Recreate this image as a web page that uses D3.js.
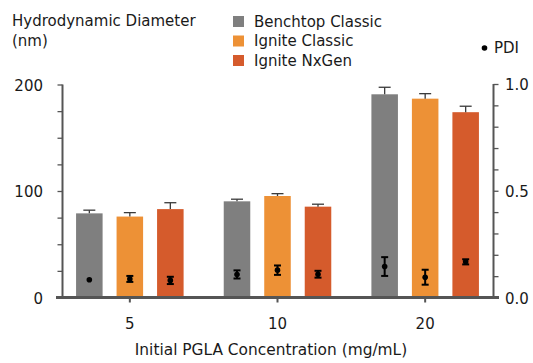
<!DOCTYPE html>
<html>
<head>
<meta charset="utf-8">
<script src="https://cdn.jsdelivr.net/npm/d3@7"></script>
<style>
  body { margin: 0; background: #fff; }
  text { font-family: "DejaVu Sans", Verdana, sans-serif; fill: #1a1a1a; }
</style>
</head>
<body>
<svg id="chart" width="533" height="363"></svg>
<script>
const concentrations = ['5', '10', '20']
const instruments = ['Benchtop Classic', 'Ignite Classic', 'Ignite NxGen']
const colors = ['#7f7f7f', '#ed9136', '#d55b2c']

// hydrodynamic diameter (nm), per concentration x instrument
const diameter = [
  [79, 76, 83],
  [90.3, 95.3, 85.3],
  [190.8, 186.7, 174]
]
const diameterErr = [
  [3, 3.7, 6],
  [2, 2.2, 2.3],
  [6.6, 4.7, 5.6]
]
const pdi = [
  [0.083, 0.087, 0.080],
  [0.108, 0.128, 0.109],
  [0.145, 0.095, 0.167]
]
const pdiErr = [
  [0, 0.014, 0.017],
  [0.019, 0.022, 0.016],
  [0.044, 0.035, 0.012]
]
const leftTicks = [0, 100, 200]
const rightTicks = [0, 0.5, 1.0]

const svg = d3.select('#chart')
const axisColor = '#555'
const x0 = 56, x1 = 499, yBase = 297.5

const xScale = d3.scaleBand().domain(concentrations).range([x0, x1])
const xInner = d3.scaleBand().domain(instruments).range([-60.75, 60.75]).paddingInner(0.345).paddingOuter(0.1725)
const yScale = d3.scaleLinear().domain([0, 200]).range([yBase, 84.5])
const pdiScale = d3.scaleLinear().domain([0, 1]).range([yBase, 84])

const rows = []
concentrations.forEach((c, i) => {
  instruments.forEach((s, j) => {
    rows.push({ c, s, j, d: diameter[i][j], de: diameterErr[i][j], p: pdi[i][j], pe: pdiErr[i][j] })
  })
})
const cx = (d) => xScale(d.c) + xScale.bandwidth() / 2 + xInner(d.s) + xInner.bandwidth() / 2

// Draw bars
svg.append('g')
  .selectAll('rect')
  .data(rows)
  .join('rect')
  .attr('x', (d) => cx(d) - xInner.bandwidth() / 2)
  .attr('width', xInner.bandwidth())
  .attr('y', (d) => yScale(d.d))
  .attr('height', (d) => yBase - yScale(d.d))
  .attr('fill', (d) => colors[d.j])

// upper error bars for diameter
const eb = svg.append('g').attr('stroke', '#3a3a3a').attr('stroke-width', 1.3)
eb.selectAll('.v').data(rows).join('line')
  .attr('x1', cx).attr('x2', cx)
  .attr('y1', (d) => yScale(d.d)).attr('y2', (d) => yScale(d.d + d.de))
eb.selectAll('.c').data(rows).join('line')
  .attr('x1', (d) => cx(d) - 6).attr('x2', (d) => cx(d) + 6)
  .attr('y1', (d) => yScale(d.d + d.de)).attr('y2', (d) => yScale(d.d + d.de))

// PDI points with error bars
const pe = svg.append('g').attr('stroke', '#000').attr('stroke-width', 2)
const withErr = rows.filter((d) => d.pe > 0)
pe.selectAll('.v').data(withErr).join('line')
  .attr('x1', cx).attr('x2', cx)
  .attr('y1', (d) => pdiScale(d.p - d.pe)).attr('y2', (d) => pdiScale(d.p + d.pe))
pe.selectAll('.t').data(withErr).join('line')
  .attr('x1', (d) => cx(d) - 3.5).attr('x2', (d) => cx(d) + 3.5)
  .attr('y1', (d) => pdiScale(d.p + d.pe)).attr('y2', (d) => pdiScale(d.p + d.pe))
pe.selectAll('.b').data(withErr).join('line')
  .attr('x1', (d) => cx(d) - 3.5).attr('x2', (d) => cx(d) + 3.5)
  .attr('y1', (d) => pdiScale(d.p - d.pe)).attr('y2', (d) => pdiScale(d.p - d.pe))
svg.append('g')
  .selectAll('circle')
  .data(rows)
  .join('circle')
  .attr('cx', cx)
  .attr('cy', (d) => pdiScale(d.p))
  .attr('r', 2.8)
  .attr('fill', '#000')

// Draw left axis
const leftAxis = svg.append('g')
  .attr('transform', 'translate(62.5,0)')
  .call(d3.axisLeft(yScale).tickValues(d3.range(0, 201, 25)).tickSize(5).tickFormat(''))
leftAxis.select('.domain').attr('stroke', axisColor).attr('stroke-width', 2).attr('d', `M0,${yBase}V${yScale(200)}`)
leftAxis.selectAll('.tick line').attr('stroke', axisColor).attr('stroke-width', 1.3)
svg.append('g')
  .selectAll('text')
  .data(leftTicks)
  .join('text')
  .attr('x', 43)
  .attr('y', (d) => yScale(d) + 6)
  .attr('text-anchor', 'end')
  .style('font-size', '15px')
  .text((d) => d)

// Draw right axis
const rightAxis = svg.append('g')
  .attr('transform', 'translate(493.5,0)')
  .call(d3.axisRight(pdiScale).tickValues(d3.range(0, 11).map((v) => v / 10)).tickSize(5).tickFormat(''))
rightAxis.select('.domain').attr('stroke', axisColor).attr('stroke-width', 2).attr('d', `M0,${yBase}V${pdiScale(1)}`)
rightAxis.selectAll('.tick line').attr('stroke', axisColor).attr('stroke-width', 1.3)
svg.append('g')
  .selectAll('text')
  .data(rightTicks)
  .join('text')
  .attr('x', 505)
  .attr('y', (d) => pdiScale(d) + 6)
  .style('font-size', '15px')
  .text((d) => d.toFixed(1))

// Draw bottom axis
const bottomAxis = svg.append('g')
  .attr('transform', `translate(0,${yBase})`)
  .call(d3.axisBottom(xScale).tickSize(5).tickFormat(''))
bottomAxis.select('.domain').attr('stroke', axisColor).attr('stroke-width', 3).attr('d', `M${x0},0H${x1}`)
bottomAxis.selectAll('.tick line').attr('stroke', axisColor).attr('stroke-width', 2)
svg.append('g')
  .selectAll('text')
  .data(concentrations)
  .join('text')
  .attr('x', (d) => xScale(d) + xScale.bandwidth() / 2)
  .attr('y', 329)
  .attr('text-anchor', 'middle')
  .style('font-size', '15px')
  .text((d) => d)

svg.append('text')
  .attr('x', 271)
  .attr('y', 355)
  .attr('text-anchor', 'middle')
  .style('font-size', '15.4px')
  .text('Initial PGLA Concentration (mg/mL)')

// Left title
svg.append('text').attr('x', 12).attr('y', 26).style('font-size', '15px').text('Hydrodynamic Diameter')
svg.append('text').attr('x', 12).attr('y', 46).style('font-size', '15px').text('(nm)')

// Legend
const legend = svg.append('g')
  .selectAll('g')
  .data(instruments)
  .join('g')
  .attr('transform', (d, i) => `translate(233,${16 + i * 19.5})`)
legend.append('rect').attr('width', 11).attr('height', 11).attr('fill', (d, i) => colors[i])
legend.append('text').attr('x', 21).attr('y', 10.5).style('font-size', '15px').text((d) => d)

svg.append('circle').attr('cx', 484.5).attr('cy', 48).attr('r', 2.8).attr('fill', '#000')
svg.append('text').attr('x', 494).attr('y', 52.5).style('font-size', '15px').text('PDI')
</script>
</body>
</html>
